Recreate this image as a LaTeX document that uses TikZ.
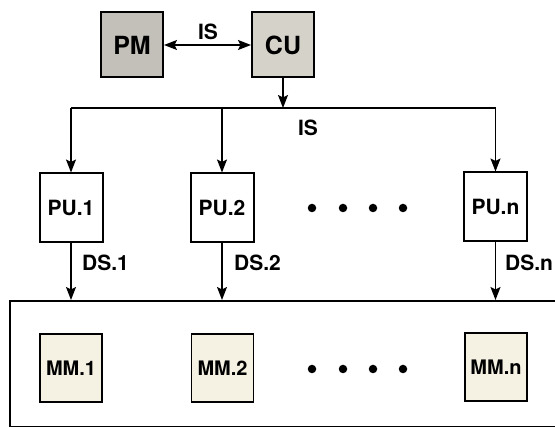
\documentclass[tikz,border=0pt]{standalone}
\usepackage{fontspec}
\setmainfont{TeX Gyre Heros}
\usetikzlibrary{arrows.meta}
\definecolor{pmgray}{HTML}{C3C0B9}
\definecolor{cugray}{HTML}{D5D2CA}
\definecolor{mmfill}{HTML}{F5F2E3}
\tikzset{
  unitbox/.style={draw, line width=2pt, inner sep=0pt, font=\bfseries},
  bigunit/.style={unitbox, minimum width=62pt, minimum height=65pt, font=\bfseries\fontsize{25}{25}\selectfont},
  pubox/.style={unitbox, fill=white, minimum width=63pt, minimum height=69pt, font=\bfseries\fontsize{21}{21}\selectfont},
  mmbox/.style={unitbox, fill=mmfill, line width=1.7pt, minimum width=62pt, minimum height=68pt, font=\bfseries\fontsize{20}{20}\selectfont},
  conn/.style={line width=1.3pt, -{Stealth[length=13pt, width=10pt, inset=2.5pt]}},
  biconn/.style={line width=1.3pt, {Stealth[length=13pt, width=10pt, inset=2.5pt]}-{Stealth[length=13pt, width=10pt, inset=2.5pt]}},
  lbl/.style={font=\bfseries\fontsize{21}{21}\selectfont, inner sep=0pt},
  dot/.style={circle, fill=black, minimum size=8.5pt, inner sep=0pt}
}
\begin{document}
\begin{tikzpicture}[x=1pt, y=-1pt]
\useasboundingbox (0,0) rectangle (555,427);
% top units
\node[bigunit, fill=pmgray] (pm) at (132,45) {PM};
\node[bigunit, fill=cugray] (cu) at (283,45) {CU};
\draw[biconn] (pm.east) -- (cu.west);
\node[lbl] (is1) at (208,32) {IS};
% bus
\coordinate (b1) at (71,108);
\coordinate (b2) at (222,108);
\coordinate (bc) at (283,108);
\coordinate (bn) at (495.5,108);
\draw[conn] (cu.south) -- (bc);
\draw[line width=1.3pt] (b1) -- (bn);
\node[lbl] (is2) at (308,128) {IS};
% processing units
\node[pubox] (pu1) at (71,208) {PU.1};
\node[pubox] (pu2) at (222,208) {PU.2};
\node[pubox] (pun) at (495.5,207) {PU.n};
\draw[conn] (b1) -- (pu1.north);
\draw[conn] (b2) -- (pu2.north);
\draw[conn] (bn) -- (pun.north);
\node[dot] (d1) at (312,208) {};
\node[dot] (d2) at (343,208) {};
\node[dot] (d3) at (373,208) {};
\node[dot] (d4) at (403,208) {};
% memory box
\node[draw, line width=2pt, minimum width=546pt, minimum height=126pt, inner sep=0pt] (mem) at (282.5,364) {};
\draw[conn] (pu1.south) -- (pu1.south |- mem.north);
\draw[conn] (pu2.south) -- (pu2.south |- mem.north);
\draw[conn] (pun.south) -- (pun.south |- mem.north);
\node[lbl, anchor=west] (ds1) at (82,263) {DS.1};
\node[lbl, anchor=west] (ds2) at (234,263) {DS.2};
\node[lbl, anchor=west] (dsn) at (505,263) {DS.n};
% memory modules
\node[mmbox] (mm1) at (71,368) {MM.1};
\node[mmbox] (mm2) at (222.5,368) {MM.2};
\node[mmbox] (mmn) at (496,367) {MM.n};
\node[dot] (e1) at (312,369) {};
\node[dot] (e2) at (343,369) {};
\node[dot] (e3) at (373,369) {};
\node[dot] (e4) at (403,369) {};
\end{tikzpicture}
\end{document}
